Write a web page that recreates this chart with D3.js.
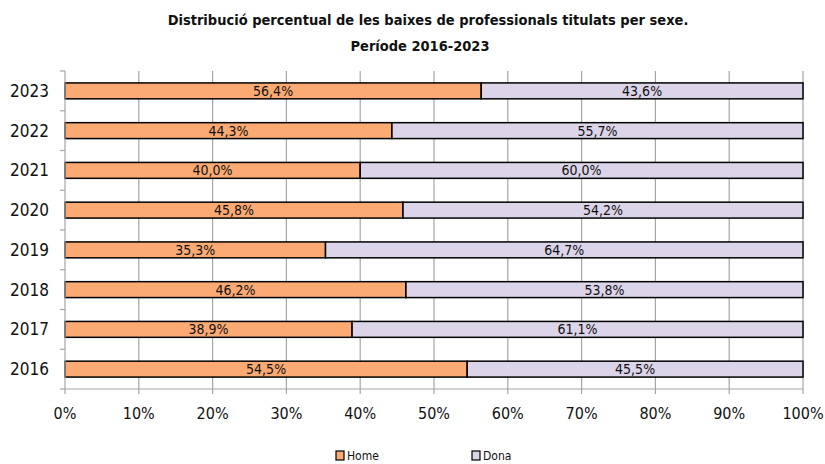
<html>
<head>
<meta charset="utf-8">
<script src="https://cdn.jsdelivr.net/npm/d3@7"></script>
<style>
  body { margin: 0; background: #fff; }
  text { font-family: "Liberation Sans Narrow", "DejaVu Sans Condensed", "Open Sans", sans-serif; fill: #111; }
</style>
</head>
<body>
<script>
var years = ["2023", "2022", "2021", "2020", "2019", "2018", "2017", "2016"];
var home  = [56.4, 44.3, 40.0, 45.8, 35.3, 46.2, 38.9, 54.5];
var dona  = [43.6, 55.7, 60.0, 54.2, 64.7, 53.8, 61.1, 45.5];
var seriesNames = ["Home", "Dona"];
var colors = ["#FBAA73", "#DCD4E8"];
var xTicks = [0, 10, 20, 30, 40, 50, 60, 70, 80, 90, 100];

var W = 825, H = 464;
var svg = d3.select("body").append("svg").attr("width", W).attr("height", H);

var x = d3.scaleLinear().domain([0, 100]).range([65, 803]);
var y = d3.scaleBand().domain(years).range([71, 389]).paddingInner(0.6).paddingOuter(0.3);
var yb = d3.scaleBand().domain(years).range([71, 389]);

// title
svg.append("text").attr("x", 428).attr("y", 25).attr("text-anchor", "middle")
  .style("font-weight", "bold").style("font-size", "14.5px")
  .text("Distribució  percentual de les baixes de professionals titulats per sexe.");
svg.append("text").attr("x", 420).attr("y", 51).attr("text-anchor", "middle")
  .style("font-weight", "bold").style("font-size", "14.5px")
  .text("Període 2016-2023");

// gridlines
svg.append("g").selectAll("line").data(xTicks.slice(1)).enter().append("line")
  .attr("x1", function(d){ return x(d); }).attr("x2", function(d){ return x(d); })
  .attr("y1", 71).attr("y2", 389)
  .attr("stroke", "#A6A6A6").attr("stroke-width", 1.2);

// bars
var rows = years.map(function(yr, i){ return {year: yr, vals: [home[i], dona[i]]}; });
rows.forEach(function(r){
  var start = 0;
  r.vals.forEach(function(v, k){
    svg.append("rect")
      .attr("x", x(start)).attr("y", y(r.year))
      .attr("width", x(start + v) - x(start)).attr("height", y.bandwidth())
      .attr("fill", colors[k]).attr("stroke", "#000").attr("stroke-width", 1.5);
    svg.append("text")
      .attr("x", x(start + v / 2)).attr("y", y(r.year) + y.bandwidth() / 2 + 5)
      .attr("text-anchor", "middle").style("font-size", "14px")
      .text(d3.format(".1f")(v).replace(".", ",") + "%");
    start += v;
  });
});

// y axis
var ya = svg.append("g").attr("transform", "translate(65,0)");
ya.append("line").attr("x1", 0).attr("x2", 0).attr("y1", 71).attr("y2", 389).attr("stroke", "#A6A6A6").attr("stroke-width", 1.2);
var bounds = years.map(function(d){ return yb(d); }).concat([389]);
ya.selectAll("line.t").data(bounds).enter().append("line").attr("class", "t")
  .attr("x1", -5).attr("x2", 0).attr("y1", function(d){ return d; }).attr("y2", function(d){ return d; })
  .attr("stroke", "#A6A6A6").attr("stroke-width", 1.2);
ya.selectAll("text").data(years).enter().append("text")
  .attr("x", -16).attr("y", function(d){ return yb(d) + yb.bandwidth() / 2 + 6; })
  .attr("text-anchor", "end").style("font-size", "17px").text(function(d){ return d; });

// x axis
var xa = svg.append("g").attr("transform", "translate(0,389)");
xa.append("line").attr("x1", 65).attr("x2", 803).attr("stroke", "#A6A6A6").attr("stroke-width", 1.2);
xa.selectAll("line.t").data(xTicks).enter().append("line").attr("class", "t")
  .attr("x1", function(d){ return x(d); }).attr("x2", function(d){ return x(d); })
  .attr("y1", 0).attr("y2", 5).attr("stroke", "#A6A6A6").attr("stroke-width", 1.2);
xa.selectAll("text").data(xTicks).enter().append("text")
  .attr("x", function(d){ return x(d); }).attr("y", 30)
  .attr("text-anchor", "middle").style("font-size", "16px").text(function(d){ return d + "%"; });

// legend
var lx = [336, 472];
seriesNames.forEach(function(n, k){
  svg.append("rect").attr("x", lx[k]).attr("y", 451).attr("width", 8).attr("height", 9)
    .attr("fill", colors[k]).attr("stroke", "#000").attr("stroke-width", 1.2);
  svg.append("text").attr("x", lx[k] + 11).attr("y", 460).style("font-size", "12px").text(n);
});
</script>
</body>
</html>
